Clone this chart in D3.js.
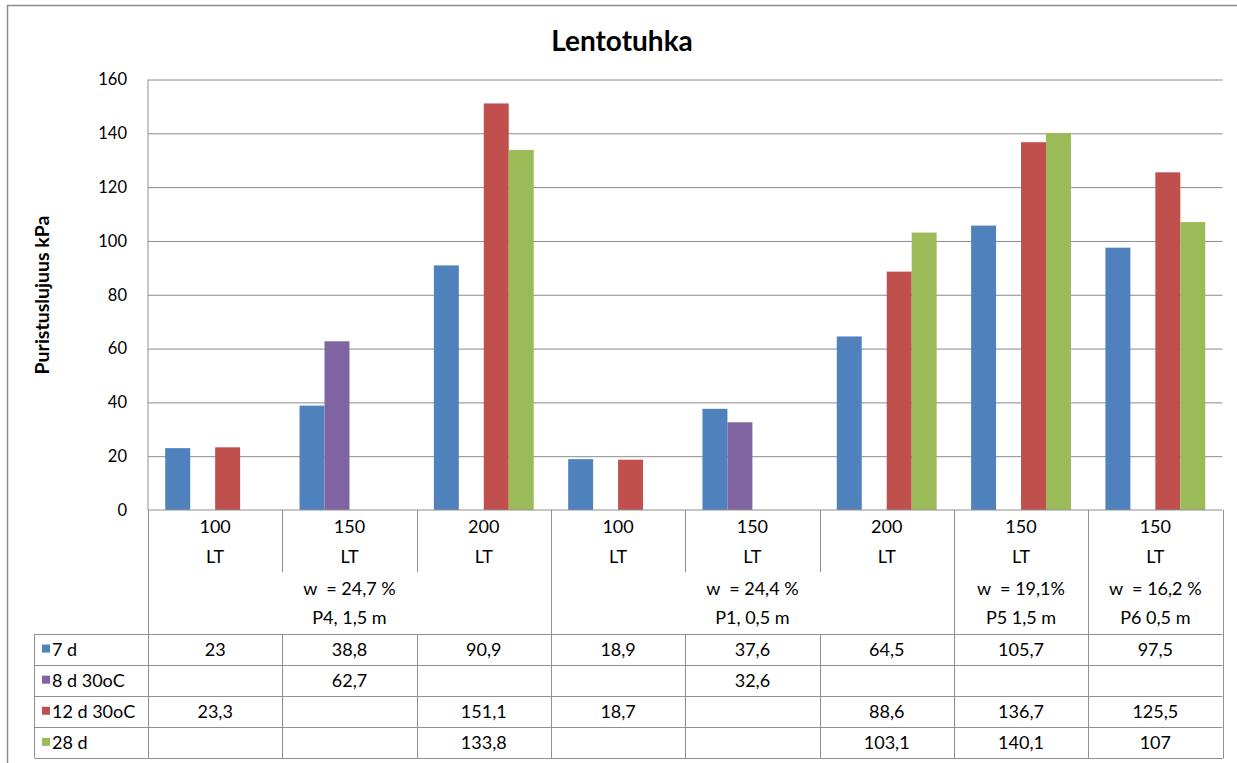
<!DOCTYPE html>
<html>
<head>
<meta charset="utf-8">
<script src="https://cdn.jsdelivr.net/npm/d3@7/dist/d3.min.js"></script>
<style>
  html, body { margin: 0; padding: 0; background: #fff; }
  svg { display: block; font-family: Lato, "Open Sans", sans-serif; }
  text { white-space: pre; }
</style>
</head>
<body>
<svg id="chart" width="1237" height="763"></svg>
<script>
// Compressive strength of fly ash (LT) stabilised samples
const doses    = ["100", "150", "200", "100", "150", "200", "150", "150"];
const binders  = ["LT", "LT", "LT", "LT", "LT", "LT", "LT", "LT"];
const groupW   = ["w  = 24,7 %", "w  = 24,4 %", "w  = 19,1%", "w  = 16,2 %"];
const groupP   = ["P4, 1,5 m", "P1, 0,5 m", "P5 1,5 m", "P6 0,5 m"];
const groupSpan = [3, 3, 1, 1];

const seriesNames  = ["7 d", "8 d 30oC", "12 d 30oC", "28 d"];
const seriesColors = ["#4F81BD", "#8064A2", "#C0504D", "#9BBB59"];
const d7    = [23, 38.8, 90.9, 18.9, 37.6, 64.5, 105.7, 97.5];
const d8    = [null, 62.7, null, null, 32.6, null, null, null];
const d12   = [23.3, null, 151.1, 18.7, null, 88.6, 136.7, 125.5];
const d28   = [null, null, 133.8, null, null, 103.1, 140.1, 107];
const seriesValues = [d7, d8, d12, d28];

const yTicks = [0, 20, 40, 60, 80, 100, 120, 140, 160];
const title = "Lentotuhka";
const yTitle = "Puristuslujuus kPa";

const svg = d3.select("#chart");
const lineCol = "#8f8f8f";
const gridCol = "#8a8a8a";
const tableFont = 18;

const plot = { left: 148, right: 1222.5, top: 79.5, bottom: 510 };
const idx = d3.range(doses.length);

const x = d3.scaleBand().domain(idx).range([plot.left, plot.right]).paddingInner(0).paddingOuter(0);
const xs = d3.scaleBand().domain(d3.range(seriesNames.length)).range([0, x.bandwidth()])
  .paddingInner(0).paddingOuter(0.69);
const y = d3.scaleLinear().domain([0, 160]).range([plot.bottom, plot.top]);

// outer chart frame
svg.append("path").attr("d", "M7.5,763 V5.5 H1237")
  .attr("fill", "none").attr("stroke", "#8c8c8c").attr("stroke-width", 1.5);

// title
svg.append("text").attr("x", 622).attr("y", 51).attr("text-anchor", "middle")
  .attr("font-size", 28).attr("font-weight", 700).attr("fill", "#000").text(title);

// y axis title
svg.append("text").attr("transform", "translate(49,295) rotate(-90)")
  .attr("text-anchor", "middle").attr("font-size", 19.5).attr("font-weight", 700)
  .attr("fill", "#000").text(yTitle);

// gridlines + tick labels via axis
const yAxis = svg.append("g").attr("transform", `translate(${plot.left},0)`)
  .call(d3.axisLeft(y).tickValues(yTicks).tickSize(-(plot.right - plot.left)).tickPadding(21));
yAxis.select(".domain").remove();
yAxis.selectAll(".tick line").attr("stroke", gridCol).attr("stroke-width", 1)
  .filter(d => d === 0).remove();
yAxis.selectAll(".tick text").attr("font-size", 16.5).attr("font-family", "Lato, sans-serif")
  .attr("fill", "#000");

// bars
idx.forEach(i => {
  seriesValues.forEach((vals, s) => {
    const v = vals[i];
    if (v == null) return;
    svg.append("rect")
      .attr("x", x(i) + xs(s))
      .attr("y", y(v))
      .attr("width", xs.bandwidth())
      .attr("height", y(0) - y(v))
      .attr("fill", seriesColors[s]);
  });
});

// vertical value axis line and horizontal category axis line
svg.append("line").attr("x1", plot.left).attr("x2", plot.left).attr("y1", plot.top).attr("y2", plot.bottom)
  .attr("stroke", lineCol);
svg.append("line").attr("x1", plot.left).attr("x2", plot.right).attr("y1", plot.bottom).attr("y2", plot.bottom)
  .attr("stroke", lineCol);

// multi-level category labels
const row1 = 527, row2 = 557, row3 = 589, row4 = 618;
const tableTop = 634, rowH = 31.1;
const tableLeft = 35;

// boundaries: full-height separators at group edges, short ones inside groups
const groupEdges = [0];
groupSpan.forEach(s => groupEdges.push(groupEdges[groupEdges.length - 1] + s));
d3.range(doses.length + 1).forEach(k => {
  const xb = Math.round(k < doses.length ? x(k) : plot.right) + 0.5;
  const full = groupEdges.includes(k);
  svg.append("line").attr("x1", xb).attr("x2", xb)
    .attr("y1", plot.bottom).attr("y2", full ? tableTop : 572)
    .attr("stroke", lineCol);
});

idx.forEach(i => {
  const cx = x(i) + x.bandwidth() / 2;
  svg.append("text").attr("x", cx).attr("y", row1).attr("dy", "0.35em").attr("text-anchor", "middle")
    .attr("font-size", tableFont).text(doses[i]);
  svg.append("text").attr("x", cx).attr("y", row2).attr("dy", "0.35em").attr("text-anchor", "middle")
    .attr("font-size", tableFont).text(binders[i]);
});

groupSpan.forEach((s, g) => {
  const a = groupEdges[g], b = groupEdges[g + 1];
  const x0 = x(a), x1 = b < doses.length ? x(b) : plot.right;
  const cx = (x0 + x1) / 2;
  svg.append("text").attr("x", cx).attr("y", row3).attr("dy", "0.35em").attr("text-anchor", "middle")
    .attr("font-size", tableFont).text(groupW[g]);
  svg.append("text").attr("x", cx).attr("y", row4).attr("dy", "0.35em").attr("text-anchor", "middle")
    .attr("font-size", tableFont).text(groupP[g]);
});

// data table
const fmt = v => v == null ? "" : String(v).replace(".", ",");
seriesNames.forEach((name, s) => {
  const yTop = tableTop + s * rowH;
  const yc = yTop + rowH / 2;
  svg.append("rect").attr("x", 42).attr("y", yc - 5).attr("width", 8).attr("height", 8)
    .attr("fill", seriesColors[s]);
  svg.append("text").attr("x", 52).attr("y", yc).attr("dy", "0.35em")
    .attr("font-size", tableFont).text(name);
  idx.forEach(i => {
    svg.append("text").attr("x", x(i) + x.bandwidth() / 2).attr("y", yc).attr("dy", "0.35em")
      .attr("text-anchor", "middle").attr("font-size", tableFont).text(fmt(seriesValues[s][i]));
  });
});
// table grid
d3.range(seriesNames.length + 1).forEach(r => {
  const yy = Math.round(tableTop + r * rowH) + 0.5;
  svg.append("line").attr("x1", tableLeft).attr("x2", plot.right).attr("y1", yy).attr("y2", yy)
    .attr("stroke", lineCol);
});
const tableBottom = Math.round(tableTop + seriesNames.length * rowH) + 0.5;
[tableLeft - 0.5].concat(d3.range(doses.length + 1).map(k => Math.round(k < doses.length ? x(k) : plot.right) + 0.5))
  .forEach(xb => {
    svg.append("line").attr("x1", xb).attr("x2", xb).attr("y1", tableTop).attr("y2", tableBottom)
      .attr("stroke", lineCol);
  });
</script>
</body>
</html>
